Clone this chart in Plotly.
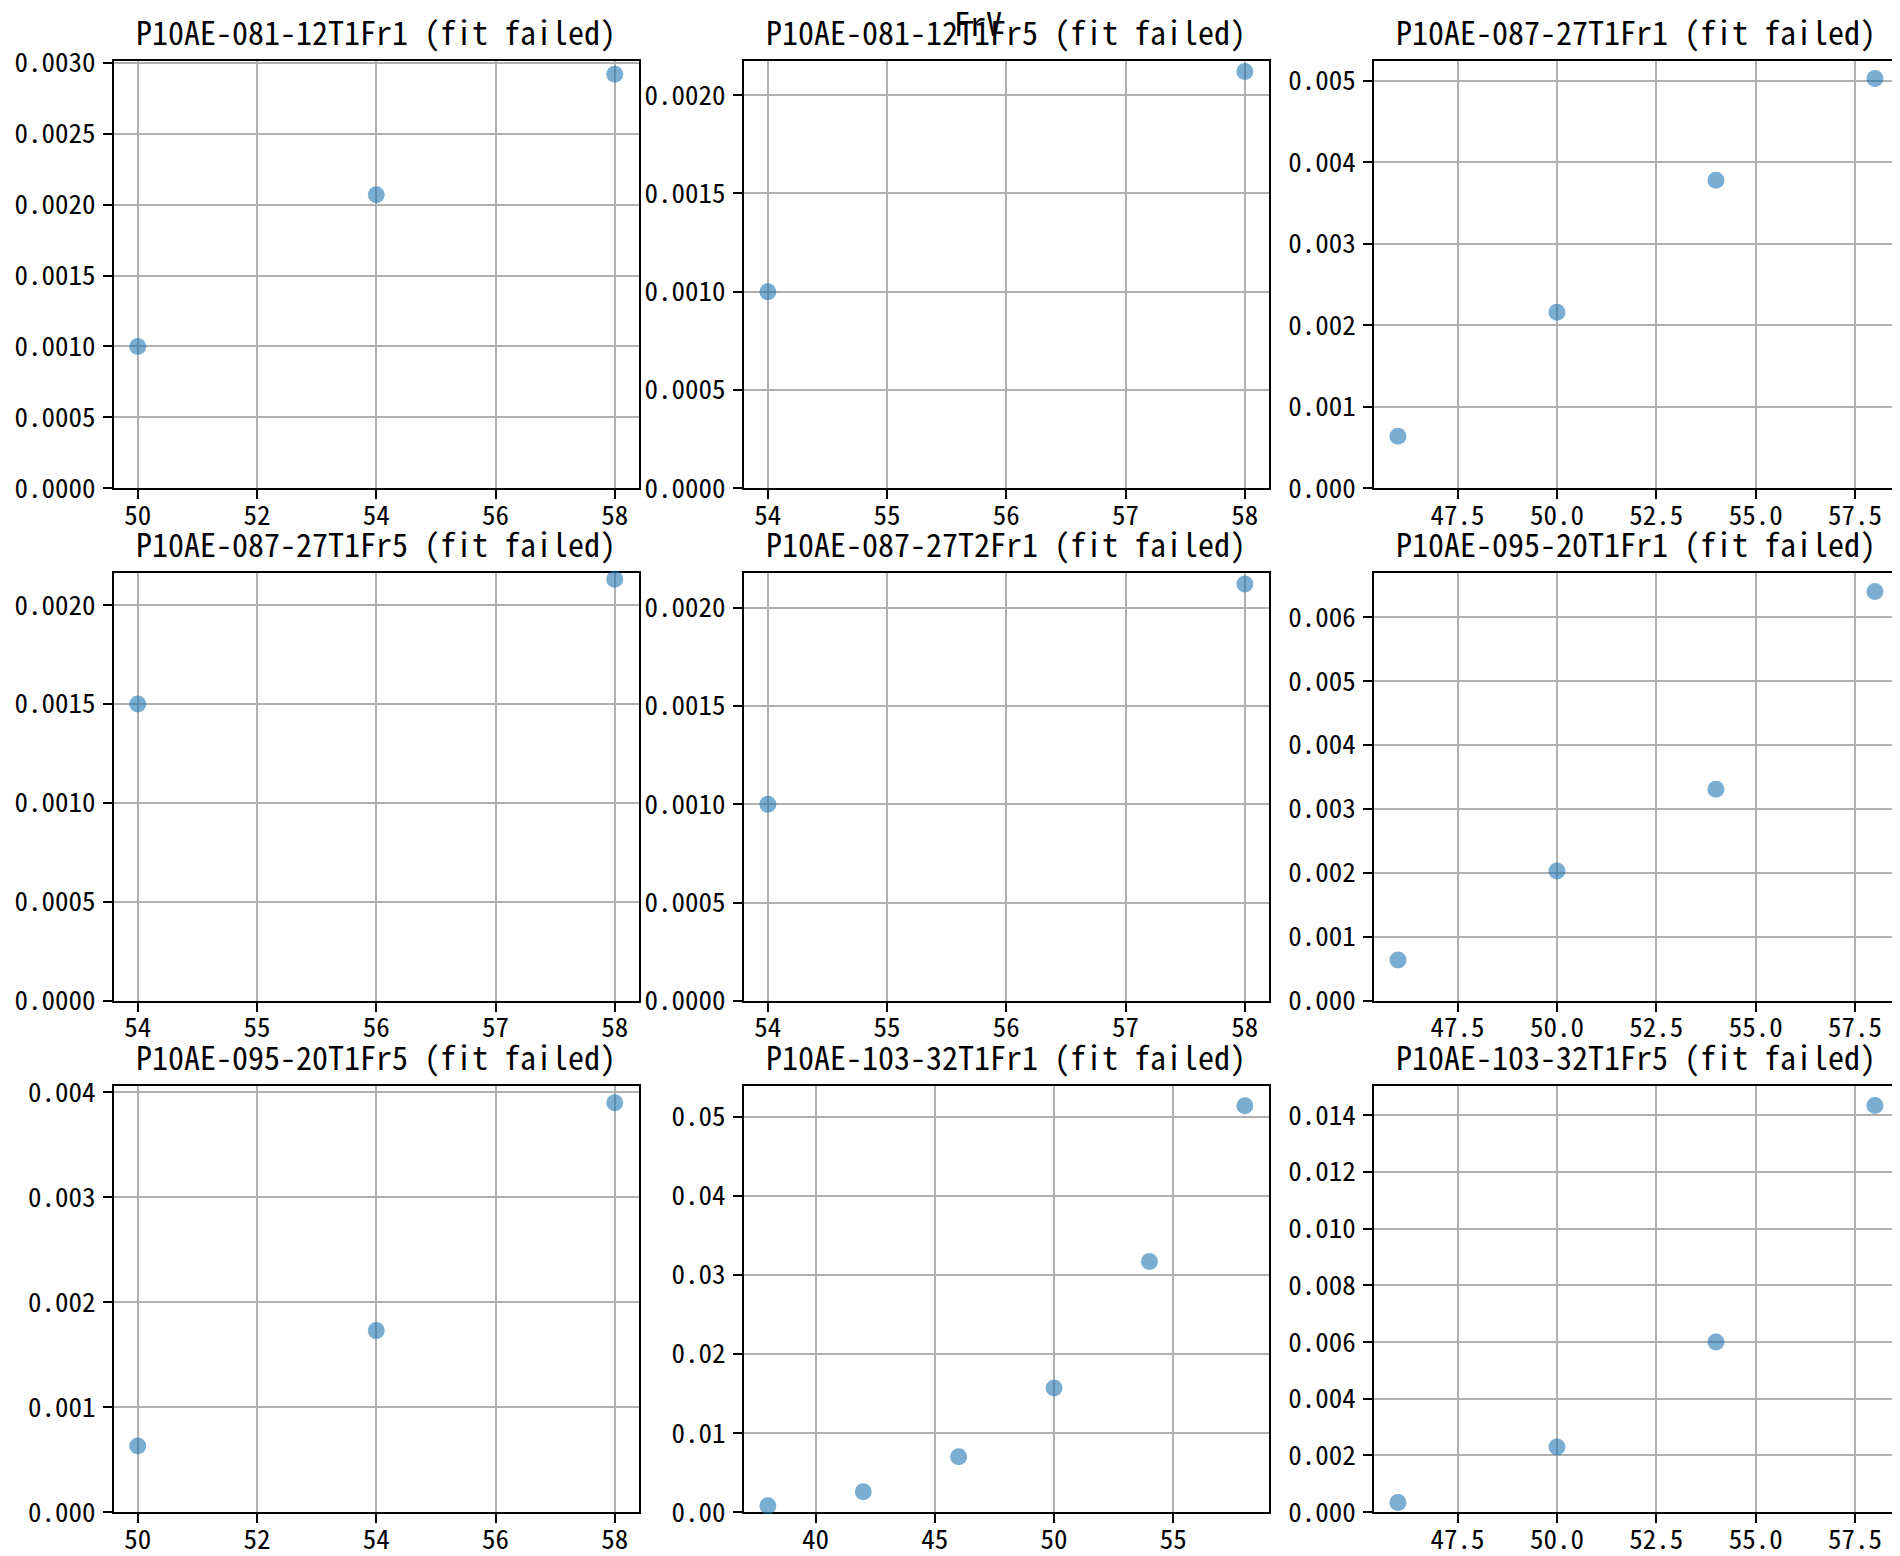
import plotly.graph_objects as go

# ---------------- data ----------------
titles = [
    "P10AE-081-12T1Fr1 (fit failed)",
    "P10AE-081-12T1Fr5 (fit failed)",
    "P10AE-087-27T1Fr1 (fit failed)",
    "P10AE-087-27T1Fr5 (fit failed)",
    "P10AE-087-27T2Fr1 (fit failed)",
    "P10AE-095-20T1Fr1 (fit failed)",
    "P10AE-095-20T1Fr5 (fit failed)",
    "P10AE-103-32T1Fr1 (fit failed)",
    "P10AE-103-32T1Fr5 (fit failed)",
]
suptitle = "FrV"

x1 = [50, 54, 58];              y1 = [0.0010, 0.00207, 0.00292]
x2 = [54, 58];                  y2 = [0.0010, 0.00212]
x3 = [46, 50, 54, 58];          y3 = [0.00064, 0.00216, 0.00378, 0.00503]
x4 = [54, 58];                  y4 = [0.0015, 0.00213]
x5 = [54, 58];                  y5 = [0.0010, 0.00212]
x6 = [46, 50, 54, 58];          y6 = [0.00064, 0.00203, 0.00331, 0.00640]
x7 = [50, 54, 58];              y7 = [0.00063, 0.00173, 0.00390]
x8 = [38, 42, 46, 50, 54, 58];  y8 = [0.0008, 0.0026, 0.0070, 0.0157, 0.0317, 0.0514]
x9 = [46, 50, 54, 58];          y9 = [0.00034, 0.0023, 0.0060, 0.01434]

# tick values / labels
xt_even = [50, 52, 54, 56, 58];        xl_even = ["50", "52", "54", "56", "58"]
xt_unit = [54, 55, 56, 57, 58];        xl_unit = ["54", "55", "56", "57", "58"]
xt_half = [47.5, 50, 52.5, 55, 57.5];  xl_half = ["47.5", "50.0", "52.5", "55.0", "57.5"]
xt_five = [40, 45, 50, 55];            xl_five = ["40", "45", "50", "55"]

yt_30 = [0, 0.0005, 0.0010, 0.0015, 0.0020, 0.0025, 0.0030]
yl_30 = ["0.0000", "0.0005", "0.0010", "0.0015", "0.0020", "0.0025", "0.0030"]
yt_20 = [0, 0.0005, 0.0010, 0.0015, 0.0020]
yl_20 = ["0.0000", "0.0005", "0.0010", "0.0015", "0.0020"]
yt_5 = [0, 0.001, 0.002, 0.003, 0.004, 0.005]
yl_5 = ["0.000", "0.001", "0.002", "0.003", "0.004", "0.005"]
yt_6 = [0, 0.001, 0.002, 0.003, 0.004, 0.005, 0.006]
yl_6 = ["0.000", "0.001", "0.002", "0.003", "0.004", "0.005", "0.006"]
yt_4 = [0, 0.001, 0.002, 0.003, 0.004]
yl_4 = ["0.000", "0.001", "0.002", "0.003", "0.004"]
yt_05 = [0, 0.01, 0.02, 0.03, 0.04, 0.05]
yl_05 = ["0.00", "0.01", "0.02", "0.03", "0.04", "0.05"]
yt_14 = [0, 0.002, 0.004, 0.006, 0.008, 0.010, 0.012, 0.014]
yl_14 = ["0.000", "0.002", "0.004", "0.006", "0.008", "0.010", "0.012", "0.014"]

panels = [
    (x1, y1, xt_even, xl_even, yt_30, yl_30),
    (x2, y2, xt_unit, xl_unit, yt_20, yl_20),
    (x3, y3, xt_half, xl_half, yt_5, yl_5),
    (x4, y4, xt_unit, xl_unit, yt_20, yl_20),
    (x5, y5, xt_unit, xl_unit, yt_20, yl_20),
    (x6, y6, xt_half, xl_half, yt_6, yl_6),
    (x7, y7, xt_even, xl_even, yt_4, yl_4),
    (x8, y8, xt_five, xl_five, yt_05, yl_05),
    (x9, y9, xt_half, xl_half, yt_14, yl_14),
]

# ---------------- layout ----------------
OFF = 8  # default page body margin
W, H = 1900 - OFF, 1556 - OFF
FONT = "Noto Sans Mono CJK JP, Noto Sans CJK JP, Liberation Mono, monospace"
col_px = [(113.9, 638.6), (744.0, 1268.7), (1374.1, 1898.8)]
row_px = [(60.6, 488.3), (573.1, 1000.9), (1085.7, 1512.2)]
GRID = "#b0b0b0"
MARK = "rgba(31,119,180,0.6)"


def px_x(p):
    return (p - OFF) / W


def px_y(p):
    return 1 - (p - OFF) / H


fig = go.Figure()
annotations = []
layout = {}
for i, (xs, ys, xt, xl, yt, yl) in enumerate(panels):
    r, c = divmod(i, 3)
    n = i + 1
    xa = "x" if n == 1 else f"x{n}"
    ya = "y" if n == 1 else f"y{n}"
    fig.add_trace(go.Scatter(x=xs, y=ys, mode="markers", xaxis=xa, yaxis=ya,
                             marker=dict(size=17, color=MARK, line=dict(width=0)),
                             showlegend=False, cliponaxis=False))
    # matplotlib-style autoscale margins (5%), y bottom fixed at 0
    xspan = max(xs) - min(xs)
    xr = [min(xs) - 0.05 * xspan, max(xs) + 0.05 * xspan]
    yr = [0, max(ys) + 0.05 * (max(ys) - min(ys))]
    x0, x1p = col_px[c]
    yt0, yb0 = row_px[r]
    common = dict(showline=True, linecolor="black", linewidth=2, mirror=True,
                  showgrid=True, gridcolor=GRID, gridwidth=2, zeroline=False,
                  ticks="outside", ticklen=9, tickwidth=2, tickcolor="black",
                  tickfont=dict(family=FONT, size=27, color="black"),
                  automargin=False, layer="below traces")
    layout["xaxis" if n == 1 else f"xaxis{n}"] = dict(
        common, domain=[px_x(x0), px_x(x1p)], range=xr, tickvals=xt, ticktext=xl,
        anchor=ya, ticklabelstandoff=-7)
    layout["yaxis" if n == 1 else f"yaxis{n}"] = dict(
        common, domain=[px_y(yb0), px_y(yt0)], range=yr, tickvals=yt, ticktext=yl,
        anchor=xa, ticklabelstandoff=2)
    annotations.append(dict(text=titles[i], x=px_x((x0 + x1p) / 2), y=px_y(yt0),
                            xref="paper", yref="paper", xanchor="center", yanchor="bottom",
                            yshift=5, showarrow=False,
                            font=dict(family=FONT, size=32, color="black")))

annotations.append(dict(text=suptitle, x=px_x(978.5), y=px_y(60.6), xref="paper", yref="paper",
                        xanchor="center", yanchor="bottom", yshift=14, showarrow=False,
                        font=dict(family=FONT, size=32, color="black")))

fig.update_layout(width=W, height=H, margin=dict(l=0, r=0, t=0, b=0),
                  paper_bgcolor="white", plot_bgcolor="white",
                  annotations=annotations, **layout)

fig.write_html("out.html")
